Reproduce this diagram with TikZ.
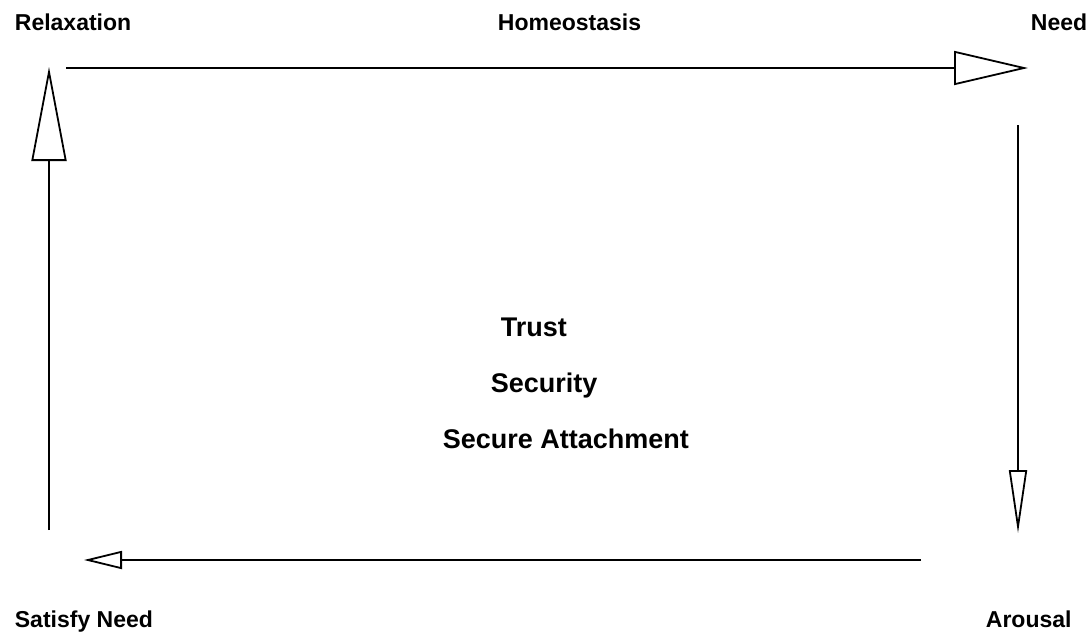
\documentclass[tikz,border=0pt]{standalone}
\usepackage{fontspec}
\setmainfont{Liberation Sans}
\usepackage{tikz}
\usetikzlibrary{arrows.meta,positioning}
\tikzset{
	cycle diagram/.style={
		x=1pt, y=-1pt,
		line width=1.8pt,
		stage/.style={font=\bfseries\fontsize{23}{27}\selectfont, inner sep=0pt, anchor=base west},
		core/.style={font=\bfseries\fontsize{27}{32}\selectfont, inner sep=0pt, anchor=base west},
		ar/.style 2 args={-{Triangle[open, length=##1, width=##2, line width=1.8pt]}}
		}
}

\begin{document}
\begin{tikzpicture}[cycle diagram]
	\useasboundingbox (0,0) rectangle (1092,635);
	% corner stages
	\node[stage] (relax) at (14,30) {Relaxation};
	\node[stage] (homeo) at (497,30) {Homeostasis};
	\node[stage] (need) at (1030,30) {Need};
	\node[stage] (satisfy) at (14,627) {Satisfy Need};
	\node[stage] (arousal) at (985,627) {Arousal};
	% centre
	\node[core] (trust) at (500,336) {Trust};
	\node[core] (secur) at (490,392) {Security};
	\node[core] (attach) at (442,448) {Secure Attachment};
	% arrow ends
	\coordinate (relax-out) at (66,68);
	\coordinate (need-in) at (1028,68);
	\coordinate (need-out) at (1018,125);
	\coordinate (arousal-in) at (1018,533);
	\coordinate (arousal-out) at (921,560);
	\coordinate (satisfy-in) at (84,560);
	\coordinate (satisfy-out) at (49,530);
	\coordinate (relax-in) at (49,67);
	\draw[ar={74pt}{34pt}] (relax-out) -- (need-in);
	\draw[ar={63pt}{18pt}] (need-out) -- (arousal-in);
	\draw[ar={38pt}{18pt}] (arousal-out) -- (satisfy-in);
	\draw[ar={94pt}{35pt}] (satisfy-out) -- (relax-in);
\end{tikzpicture}
\end{document}
